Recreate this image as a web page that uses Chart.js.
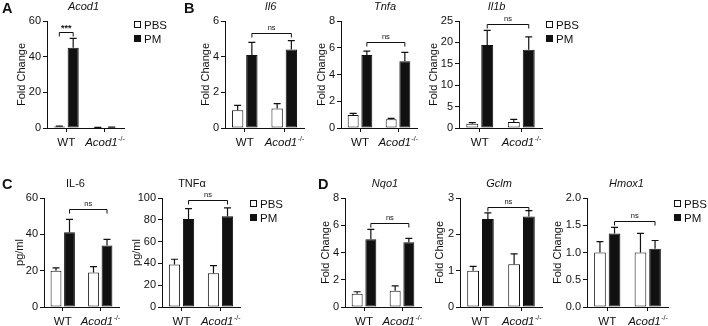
<!DOCTYPE html>
<html>
<head>
<meta charset="utf-8">
<script src="https://cdn.jsdelivr.net/npm/chart.js@4.4.0/dist/chart.umd.min.js"></script>
<style>
html, body { margin: 0; padding: 0; background: #fff; }
#fig { position: relative; width: 708px; height: 326px; overflow: hidden;
       font-family: 'Liberation Sans', Arial, Helvetica, sans-serif; color: #111; }
#fig canvas { position: absolute; }
.letter { position: absolute; font-weight: bold; font-size: 14.5px; line-height: 14px; }
.legend { position: absolute; font-size: 11.5px; line-height: 14px; white-space: nowrap; }
.legend .sw { display: inline-block; width: 5px; height: 5px; border: 1px solid #111;
              margin-right: 3px; vertical-align: 1px; }
</style>
</head>
<body>
<div id="fig"></div>
<script>
// ---- data ----
const groups = ['WT', 'Acod1'];
const groupSup = ['', '-/-'];
const groupItalic = [false, true];
const seriesNames = ['PBS', 'PM'];

// A  Acod1 (fold change)
const acod1PBS = [0.8, 0.2], acod1PBSErr = [0.3, 0.1];
const acod1PM = [45.0, 0.4], acod1PMErr = [5.3, 0.1];
const acod1Ticks = ['0', '20', '40', '60'];
const acod1Sig = { from: [0, 0], to: [0, 1], level: 54, text: '***' };

// B  Il6, Tnfa, Il1b (fold change)
const il6PBS = [1.0, 1.1], il6PBSErr = [0.27, 0.27];
const il6PM = [4.1, 4.4], il6PMErr = [0.7, 0.5];
const il6Ticks = ['0', '2', '4', '6'];
const il6Sig = { from: [0, 1], to: [1, 1], level: 5.35, text: 'ns' };

const tnfaPBS = [0.97, 0.65], tnfaPBSErr = [0.13, 0.07];
const tnfaPM = [5.45, 5.0], tnfaPMErr = [0.3, 0.65];
const tnfaTicks = ['0', '2', '4', '6', '8'];
const tnfaSig = { from: [0, 1], to: [1, 1], level: 6.4, text: 'ns' };

const il1bPBS = [1.0, 1.4], il1bPBSErr = [0.25, 0.6];
const il1bPM = [19.4, 18.3], il1bPMErr = [3.4, 3.0];
const il1bTicks = ['0', '5', '10', '15', '20', '25'];
const il1bSig = { from: [0, 1], to: [1, 1], level: 24.2, text: 'ns' };

// C  IL-6, TNFa protein (pg/ml)
const il6ProtPBS = [20.0, 19.0], il6ProtPBSErr = [1.5, 3.2];
const il6ProtPM = [41.2, 33.8], il6ProtPMErr = [7.0, 3.4];
const il6ProtTicks = ['0', '20', '40', '60'];
const il6ProtSig = { from: [0, 1], to: [1, 1], level: 54, text: 'ns' };

const tnfProtPBS = [39.0, 31.0], tnfProtPBSErr = [4.8, 7.0];
const tnfProtPM = [80.7, 83.3], tnfProtPMErr = [9.5, 7.7];
const tnfProtTicks = ['0', '20', '40', '60', '80', '100'];
const tnfProtSig = { from: [0, 1], to: [1, 1], level: 98.5, text: 'ns' };

// D  Nqo1, Gclm, Hmox1 (fold change)
const nqo1PBS = [0.97, 1.2], nqo1PBSErr = [0.15, 0.35];
const nqo1PM = [4.98, 4.75], nqo1PMErr = [0.72, 0.28];
const nqo1Ticks = ['0', '2', '4', '6', '8'];
const nqo1Sig = { from: [0, 1], to: [1, 1], level: 6.2, text: 'ns' };

const gclmPBS = [1.0, 1.18], gclmPBSErr = [0.12, 0.28];
const gclmPM = [2.42, 2.49], gclmPMErr = [0.17, 0.16];
const gclmTicks = ['0', '1', '2', '3'];
const gclmSig = { from: [0, 1], to: [1, 1], level: 2.75, text: 'ns' };

const hmox1PBS = [1.0, 1.0], hmox1PBSErr = [0.2, 0.35];
const hmox1PM = [1.35, 1.07], hmox1PMErr = [0.11, 0.15];
const hmox1Ticks = ['0.0', '0.5', '1.0', '1.5', '2.0'];
const hmox1Sig = { from: [0, 1], to: [1, 1], level: 1.58, text: 'ns' };

// ---- layout ----
const FONT = "'Liberation Sans', Arial, Helvetica, sans-serif";
const INK = '#111';
const TOP = 24, BOTTOM = 26, YAXIS = 48, RIGHT = 6;

const panels = [
  { title: 'Acod1', italic: true, yTitle: 'Fold Change', l: 47, r: 124, t: 21, b: 128, ytx: -25, tdx: -2,
    pbs: acod1PBS, pbsErr: acod1PBSErr, pm: acod1PM, pmErr: acod1PMErr, ticks: acod1Ticks, sig: acod1Sig },
  { title: 'Il6', italic: true, yTitle: 'Fold Change', l: 225, r: 304, t: 21, b: 128, ytx: -19, tdx: 6,
    pbs: il6PBS, pbsErr: il6PBSErr, pm: il6PM, pmErr: il6PMErr, ticks: il6Ticks, sig: il6Sig },
  { title: 'Tnfa', italic: true, yTitle: 'Fold Change', l: 341, r: 417, t: 21, b: 128, ytx: -19, tdx: 6,
    pbs: tnfaPBS, pbsErr: tnfaPBSErr, pm: tnfaPM, pmErr: tnfaPMErr, ticks: tnfaTicks, sig: tnfaSig },
  { title: 'Il1b', italic: true, yTitle: 'Fold Change', l: 459, r: 542, t: 21, b: 128, ytx: -25, tdx: -4,
    pbs: il1bPBS, pbsErr: il1bPBSErr, pm: il1bPM, pmErr: il1bPMErr, ticks: il1bTicks, sig: il1bSig },
  { title: 'IL-6', italic: false, yTitle: 'pg/ml', l: 44, r: 119, t: 198, b: 307, ytx: -24, tdx: -6,
    pbs: il6ProtPBS, pbsErr: il6ProtPBSErr, pm: il6ProtPM, pmErr: il6ProtPMErr, ticks: il6ProtTicks, sig: il6ProtSig },
  { title: 'TNF\u03b1', italic: false, yTitle: 'pg/ml', l: 162, r: 240, t: 198, b: 307, ytx: -25, tdx: -9,
    pbs: tnfProtPBS, pbsErr: tnfProtPBSErr, pm: tnfProtPM, pmErr: tnfProtPMErr, ticks: tnfProtTicks, sig: tnfProtSig },
  { title: 'Nqo1', italic: true, yTitle: 'Fold Change', l: 345, r: 421, t: 198, b: 307, ytx: -19, tdx: 2,
    pbs: nqo1PBS, pbsErr: nqo1PBSErr, pm: nqo1PM, pmErr: nqo1PMErr, ticks: nqo1Ticks, sig: nqo1Sig },
  { title: 'Gclm', italic: true, yTitle: 'Fold Change', l: 460, r: 542, t: 198, b: 307, ytx: -20, tdx: -2,
    pbs: gclmPBS, pbsErr: gclmPBSErr, pm: gclmPM, pmErr: gclmPMErr, ticks: gclmTicks, sig: gclmSig },
  { title: 'Hmox1', italic: true, yTitle: 'Fold Change', l: 587, r: 668, t: 198, b: 307, ytx: -29, tdx: -1,
    pbs: hmox1PBS, pbsErr: hmox1PBSErr, pm: hmox1PM, pmErr: hmox1PMErr, ticks: hmox1Ticks, sig: hmox1Sig }
];

const letters = [['A', 2, 1], ['B', 184, 1], ['C', 2, 177], ['D', 318, 177]];
const legends = [[134, 18], [546, 18], [250, 197], [674, 197]];

// error bars, brackets and labels drawn through the chart's own scales
const marks = {
  id: 'marks',
  afterDatasetsDraw(chart, args, o) {
    const ctx = chart.ctx, y = chart.scales.y;
    ctx.save();
    ctx.strokeStyle = INK;
    ctx.lineWidth = 1.2;
    chart.data.datasets.forEach((ds, di) => {
      chart.getDatasetMeta(di).data.forEach((bar, i) => {
        const top = y.getPixelForValue(ds.data[i] + ds.err[i]);
        ctx.beginPath();
        ctx.moveTo(bar.x, bar.y);
        ctx.lineTo(bar.x, top);
        ctx.moveTo(bar.x - 3.5, top);
        ctx.lineTo(bar.x + 3.5, top);
        ctx.stroke();
      });
    });
    const s = o.sig;
    const xa = chart.getDatasetMeta(s.from[1]).data[s.from[0]].x;
    const xb = chart.getDatasetMeta(s.to[1]).data[s.to[0]].x;
    const yy = Math.round(y.getPixelForValue(s.level)) + 0.5;
    ctx.lineWidth = 1;
    ctx.beginPath();
    ctx.moveTo(xa, yy + 4); ctx.lineTo(xa, yy); ctx.lineTo(xb, yy); ctx.lineTo(xb, yy + 4);
    ctx.stroke();
    ctx.fillStyle = INK;
    ctx.textAlign = 'center';
    ctx.textBaseline = 'alphabetic';
    ctx.font = s.text === 'ns' ? '7.5px ' + FONT : 'bold 9px ' + FONT;
    ctx.fillText(s.text, (xa + xb) / 2, s.text === 'ns' ? yy - 4 : yy - 2);
    ctx.restore();
  },
  afterDraw(chart, args, o) {
    const ctx = chart.ctx, a = chart.chartArea, x = chart.scales.x;
    ctx.save();
    ctx.fillStyle = INK;
    ctx.textBaseline = 'middle';
    // panel title
    ctx.textAlign = 'center';
    ctx.font = (o.italic ? 'italic ' : '') + '11px ' + FONT;
    ctx.fillText(o.title, (a.left + a.right) / 2 + o.tdx, a.top - 14);
    // y title
    ctx.save();
    ctx.translate(a.left + o.ytx, (a.top + a.bottom) / 2);
    ctx.rotate(-Math.PI / 2);
    ctx.font = '11px ' + FONT;
    ctx.fillText(o.yTitle, 0, 0);
    ctx.restore();
    // group labels
    groups.forEach((g, i) => {
      const cx = x.getPixelForValue(i);
      const mainFont = (groupItalic[i] ? 'italic ' : '') + '11.5px ' + FONT;
      const supFont = '7px ' + FONT;
      ctx.font = mainFont;
      const w1 = ctx.measureText(g).width;
      ctx.font = supFont;
      const w2 = groupSup[i] ? ctx.measureText(groupSup[i]).width : 0;
      const x0 = cx - (w1 + w2) / 2;
      const yl = a.bottom + 15;
      ctx.textAlign = 'left';
      ctx.font = mainFont;
      ctx.fillText(g, x0, yl);
      if (groupSup[i]) {
        ctx.font = supFont;
        ctx.fillText(groupSup[i], x0 + w1 + 0.5, yl - 4);
      }
    });
    ctx.restore();
  }
};

const fig = document.getElementById('fig');

panels.forEach(p => {
  const cv = document.createElement('canvas');
  const w = p.r - p.l + YAXIS + RIGHT;
  const h = p.b - p.t + TOP + BOTTOM;
  cv.width = w; cv.height = h;
  cv.style.left = (p.l - YAXIS) + 'px';
  cv.style.top = (p.t - TOP) + 'px';
  cv.style.width = w + 'px'; cv.style.height = h + 'px';
  fig.appendChild(cv);

  const tickVals = p.ticks.map(Number);
  new Chart(cv, {
    type: 'bar',
    data: {
      labels: groups,
      datasets: [
        { label: seriesNames[0], data: p.pbs, err: p.pbsErr, backgroundColor: '#ffffff',
          borderColor: INK, borderWidth: 1, borderSkipped: false },
        { label: seriesNames[1], data: p.pm, err: p.pmErr, backgroundColor: '#111111',
          borderColor: '#111111', borderWidth: 1, borderSkipped: false }
      ]
    },
    options: {
      responsive: false,
      animation: false,
      devicePixelRatio: 1,
      layout: { padding: { top: TOP, right: RIGHT, left: 0, bottom: 0 } },
      datasets: { bar: { barPercentage: 0.8, categoryPercentage: 0.72 } },
      plugins: {
        legend: { display: false },
        title: { display: false },
        tooltip: { enabled: false },
        marks: { sig: p.sig, title: p.title, italic: p.italic, yTitle: p.yTitle, ytx: p.ytx, tdx: p.tdx }
      },
      scales: {
        x: {
          offset: true,
          grid: { display: true, drawOnChartArea: false, drawTicks: true, tickLength: 4,
                  offset: false, color: INK, lineWidth: 1 },
          border: { display: true, color: INK, width: 1 },
          ticks: { display: false },
          afterFit: s => { s.height = BOTTOM; }
        },
        y: {
          min: tickVals[0],
          max: tickVals[tickVals.length - 1],
          grid: { drawOnChartArea: false, drawTicks: true, tickLength: 4, color: INK, lineWidth: 1 },
          border: { display: true, color: INK, width: 1 },
          ticks: {
            stepSize: tickVals[1] - tickVals[0],
            color: INK,
            padding: 2,
            font: { family: FONT, size: 11 },
            callback: (v, i) => p.ticks[i]
          },
          afterFit: s => { s.width = YAXIS; }
        }
      }
    },
    plugins: [marks]
  });
});

letters.forEach(([t, x, y]) => {
  const d = document.createElement('div');
  d.className = 'letter';
  d.textContent = t;
  d.style.left = x + 'px'; d.style.top = y + 'px';
  fig.appendChild(d);
});

legends.forEach(([x, y]) => {
  seriesNames.forEach((n, i) => {
    const d = document.createElement('div');
    d.className = 'legend';
    d.style.left = x + 'px';
    d.style.top = (y + i * 14) + 'px';
    const sw = document.createElement('span');
    sw.className = 'sw';
    sw.style.background = i === 0 ? '#fff' : '#111';
    d.appendChild(sw);
    d.appendChild(document.createTextNode(n));
    fig.appendChild(d);
  });
});
</script>
</body>
</html>
